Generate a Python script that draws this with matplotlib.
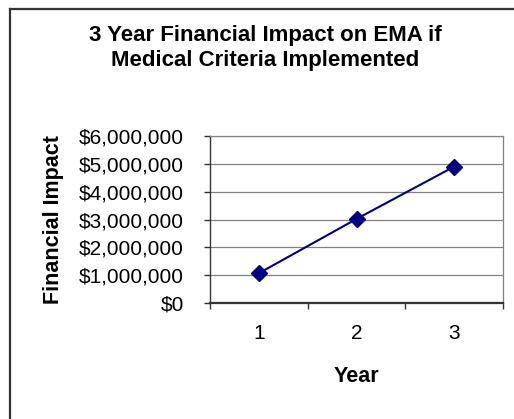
import matplotlib
matplotlib.use("Agg")
import matplotlib.pyplot as plt
from matplotlib.lines import Line2D
from matplotlib.ticker import FuncFormatter

years = ["1", "2", "3"]
impact = [1070000, 3020000, 4900000]
y_ticks = [0, 1000000, 2000000, 3000000, 4000000, 5000000, 6000000]

plt.rcParams['font.family'] = ['Liberation Sans', 'DejaVu Sans']

W, H = 514, 419
fig = plt.figure(figsize=(W / 100, H / 100), dpi=100)
fig.patch.set_facecolor('white')

# outer chart frame (only left and top visible)
fig.add_artist(Line2D([10 / W, 10 / W], [0, 1 - 9 / H], color='#333333', lw=1.6,
                      transform=fig.transFigure))
fig.add_artist(Line2D([10 / W, 1], [1 - 9 / H, 1 - 9 / H], color='#333333', lw=1.6,
                      transform=fig.transFigure))

ax = fig.add_axes([210 / W, 1 - 303 / H, (503 - 210) / W, (303 - 136) / H])

x = list(range(len(years)))
ax.plot(x, impact, color='#000080', lw=1.5, marker='D', markersize=8,
        markerfacecolor='#000080', markeredgecolor='#000080', zorder=3)

ax.set_xlim(-0.5, len(years) - 0.5)
ax.set_ylim(0, 6000000)
ax.set_yticks(y_ticks)
ax.yaxis.set_major_formatter(FuncFormatter(lambda v, p: f"${int(v):,}"))
ax.grid(axis='y', color='#808080', lw=0.9)
ax.set_axisbelow(True)

# x ticks at category boundaries, labels at centers
ax.set_xticks([i - 0.5 for i in range(len(years) + 1)])
ax.set_xticklabels([''] * (len(years) + 1))
ax.set_xticks(x, minor=True)
ax.set_xticklabels(years, minor=True, fontsize=15)
ax.tick_params(axis='x', which='major', direction='out', length=4, width=1, color='#333333')
ax.tick_params(axis='x', which='minor', length=0, pad=15)
ax.tick_params(axis='y', direction='out', length=4, width=1, color='#333333',
               labelsize=15, pad=14.7)

for s in ['top', 'right']:
    ax.spines[s].set_color('#808080')
    ax.spines[s].set_linewidth(0.9)
ax.spines['left'].set_color('#333333')
ax.spines['left'].set_linewidth(1.0)
ax.spines['bottom'].set_color('#333333')
ax.spines['bottom'].set_linewidth(1.6)

ax.set_xlabel('Year', fontsize=15.5, fontweight='bold', labelpad=17)
ax.set_ylabel('Financial Impact', fontsize=15.5, fontweight='bold')
ax.yaxis.set_label_coords((64 - 210) / (503 - 210), 0.5)

fig.text(265 / W, 1 - 48 / H,
         "3 Year Financial Impact on EMA if\nMedical Criteria Implemented",
         ha='center', va='center', fontsize=16, fontweight='bold', linespacing=1.25)

fig.savefig('out.png', dpi=100, facecolor='white')
